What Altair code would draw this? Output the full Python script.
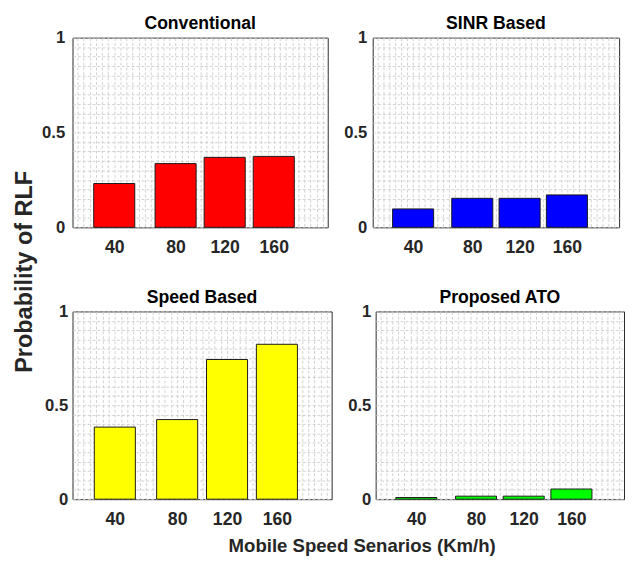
import altair as alt
import pandas as pd
import numpy as np

# ---- data ----
speed_labels = ["40", "80", "120", "160"]
slot_positions = [0.75, 2, 3, 4]          # bar slots on the x axis (MATLAB-like x values)
conventional = [0.231, 0.336, 0.369, 0.374]
sinr_based = [0.097, 0.153, 0.153, 0.171]
speed_based = [0.384, 0.424, 0.744, 0.825]
proposed_ato = [0.009, 0.016, 0.016, 0.054]

panel_titles = ["Conventional", "SINR Based", "Speed Based", "Proposed ATO"]
panel_series = [conventional, sinr_based, speed_based, proposed_ato]
panel_colors = ["#ff0000", "#0000ff", "#ffff00", "#00ff00"]
y_ticks = [0, 0.5, 1]

FONT = "Liberation Sans, Arial, Helvetica, sans-serif"
TEXT = "#262626"

x_label_expr = " : ".join(
    f"abs(datum.value - {p}) < 0.001 ? '{s}'" for p, s in zip(slot_positions, speed_labels)
) + " : ''"
y_label_expr = " : ".join(
    f"abs(datum.value - {t}) < 0.001 ? '{t:g}'" for t in y_ticks
) + " : ''"

x_grid_vals = [round(v, 4) for v in np.arange(0, 5.0001, 0.125)]
y_grid_vals = [round(v, 4) for v in np.arange(0, 1.0001, 0.05)]

GRID = dict(grid=True, gridColor="#cccccc", gridDash=[3, 2], gridWidth=0.9,
            ticks=False, domain=False, labelOverlap=False, labelFlush=False,
            title=None)


def panel(title, values, color, width, height, pad):
    df = pd.DataFrame({"pos": slot_positions, "speed": speed_labels, "p": values})
    xs = alt.Scale(domain=[0, 5], nice=False, zero=False)
    ys = alt.Scale(domain=[0, 1], nice=False)
    bars = alt.Chart(df).mark_bar(size=42, color=color, stroke="#1a1a1a",
                                  strokeWidth=1).encode(
        x=alt.X("pos:Q", scale=xs, axis=alt.Axis(
            orient="bottom", values=x_grid_vals, labelExpr=x_label_expr,
            labelFontSize=18, labelPadding=12, **GRID)),
        y=alt.Y("p:Q", scale=ys, axis=alt.Axis(
            orient="left", values=y_grid_vals, labelExpr=y_label_expr,
            labelFontSize=17, labelPadding=pad, minExtent=0, **GRID)),
    )
    return bars.properties(
        width=width, height=height,
        title=alt.TitleParams(title, fontSize=18, fontWeight="bold",
                              font=FONT, color="#000000", offset=-4),
    )


p1 = panel(panel_titles[0], panel_series[0], panel_colors[0], 261, 194, 8)
p2 = panel(panel_titles[1], panel_series[1], panel_colors[1], 252, 194, 6)
p3 = panel(panel_titles[2], panel_series[2], panel_colors[2], 265, 192, 5)
p4 = panel(panel_titles[3], panel_series[3], panel_colors[3], 254, 192, 5)

row1 = alt.hconcat(p1, p2, spacing=14)
row2 = alt.hconcat(p3, p4, spacing=14)
inner = alt.vconcat(row1, row2, spacing=31).properties(
    title=alt.TitleParams("Probability of RLF", orient="left", anchor="middle",
                          fontSize=24, fontWeight="bold", font=FONT,
                          color=TEXT, offset=4)
)
chart = alt.hconcat(inner).properties(
    title=alt.TitleParams("Mobile Speed Senarios (Km/h)", orient="bottom",
                          anchor="middle", fontSize=19, fontWeight="bold",
                          font=FONT, color=TEXT, offset=9, dx=44),
    padding={"left": 5, "top": 0, "right": 0, "bottom": 2},
).configure_view(
    stroke=TEXT, strokeWidth=1
).configure_axis(
    labelFont=FONT, labelFontWeight="bold", labelColor=TEXT
)

chart.save("out.html", embed_options={"renderer": "svg", "actions": False})
